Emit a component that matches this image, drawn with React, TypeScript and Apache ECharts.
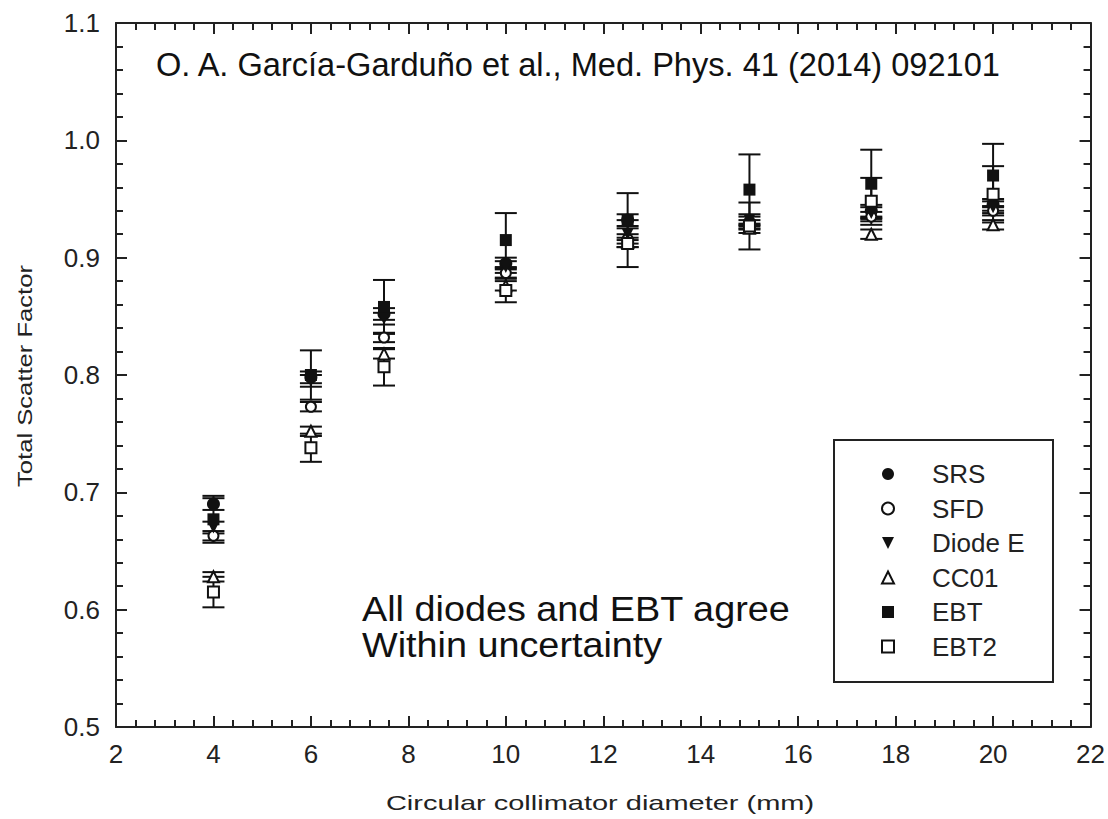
import React, { useEffect, useRef } from "react";
import * as echarts from "echarts";

// Collimator diameters (mm)
const diameters = [4, 6, 7.5, 10, 12.5, 15, 17.5, 20];

// Total scatter factor per detector
const srs = [0.69, 0.798, 0.852, 0.895, 0.932, 0.93, 0.94, 0.945];
const sfd = [0.663, 0.773, 0.832, 0.887, 0.916, 0.928, 0.935, 0.94];
const diodeE = [0.67, 0.795, 0.848, 0.892, 0.92, 0.932, 0.938, 0.943];
const cc01 = [0.628, 0.752, 0.818, 0.876, 0.913, 0.925, 0.92, 0.928];
const ebt = [0.677, 0.8, 0.858, 0.915, 0.932, 0.958, 0.963, 0.97];
const ebt2 = [0.615, 0.738, 0.807, 0.872, 0.912, 0.927, 0.948, 0.954];

// Uncertainties (half-width of the error bar)
const srsErr = [0.005, 0.005, 0.005, 0.005, 0.005, 0.005, 0.005, 0.005];
const sfdErr = [0.004, 0.004, 0.004, 0.004, 0.004, 0.004, 0.004, 0.004];
const diodeEErr = [0.005, 0.005, 0.005, 0.005, 0.005, 0.005, 0.005, 0.005];
const cc01Err = [0.004, 0.004, 0.004, 0.004, 0.004, 0.004, 0.004, 0.004];
const ebtErr = [0.02, 0.021, 0.023, 0.023, 0.023, 0.03, 0.029, 0.027];
const ebt2Err = [0.013, 0.012, 0.016, 0.01, 0.02, 0.02, 0.02, 0.024];

const xTicks = [2, 4, 6, 8, 10, 12, 14, 16, 18, 20, 22];
const yTicks = [0.5, 0.6, 0.7, 0.8, 0.9, 1.0, 1.1];

const citation = "O. A. García-Garduño et al., Med. Phys. 41 (2014) 092101";
const noteLines = ["All diodes and EBT agree", "Within uncertainty"];
const xTitle = "Circular collimator diameter (mm)";
const yTitle = "Total Scatter Factor";

const INK = "#111";
const FONT = "Liberation Sans, Arial, Helvetica, sans-serif";

type Det = {
  name: string;
  values: number[];
  err: number[];
  symbol: string;
  size: number;
  filled: boolean;
};

const detectors: Det[] = [
  { name: "SRS", values: srs, err: srsErr, symbol: "circle", size: 13, filled: true },
  { name: "SFD", values: sfd, err: sfdErr, symbol: "circle", size: 10, filled: false },
  { name: "Diode E", values: diodeE, err: diodeEErr, symbol: "path://M0,0L10,0L5,10Z", size: 12, filled: true },
  { name: "CC01", values: cc01, err: cc01Err, symbol: "triangle", size: 11, filled: false },
  { name: "EBT", values: ebt, err: ebtErr, symbol: "rect", size: 12, filled: true },
  { name: "EBT2", values: ebt2, err: ebt2Err, symbol: "rect", size: 11, filled: false },
];

function errorBarItem(params: any, api: any) {
  const x = api.value(0);
  const lo = api.value(1);
  const hi = api.value(2);
  const pHi = api.coord([x, hi]);
  const pLo = api.coord([x, lo]);
  const hw = 11;
  const style = { stroke: INK, lineWidth: 2 };
  return {
    type: "group",
    children: [
      { type: "line", shape: { x1: pHi[0], y1: pHi[1], x2: pLo[0], y2: pLo[1] }, style },
      { type: "line", shape: { x1: pHi[0] - hw, y1: pHi[1], x2: pHi[0] + hw, y2: pHi[1] }, style },
      { type: "line", shape: { x1: pLo[0] - hw, y1: pLo[1], x2: pLo[0] + hw, y2: pLo[1] }, style },
    ],
  };
}

export default function App() {
  const ref = useRef<HTMLDivElement>(null);

  useEffect(() => {
    if (!ref.current) return;
    const chart = echarts.init(ref.current, null, { renderer: "svg" });

    const errorSeries = detectors.map((d) => ({
      type: "custom",
      name: d.name + " error",
      renderItem: errorBarItem,
      encode: { x: 0, y: [1, 2] },
      data: diameters.map((x, i) => [x, d.values[i] - d.err[i], d.values[i] + d.err[i]]),
      z: 1,
      silent: true,
    }));

    const pointSeries = detectors.map((d, k) => ({
      type: "scatter",
      name: d.name,
      symbol: d.symbol,
      symbolSize: d.size,
      data: diameters.map((x, i) => [x, d.values[i]]),
      itemStyle: d.filled
        ? { color: INK, borderWidth: 0, opacity: 1 }
        : { color: "#fff", borderColor: INK, borderWidth: 2, opacity: 1 },
      z: 3 + k,
    }));

    const axisLine = { show: true, lineStyle: { color: "#222", width: 2 } };
    const tickStyle = { color: "#222", width: 2 };

    chart.setOption({
      animation: false,
      backgroundColor: "#fff",
      textStyle: { fontFamily: FONT },
      grid: { left: 116, right: 16, top: 23, bottom: 92, containLabel: false },
      title: {
        text: citation,
        left: 151,
        top: 43,
        textStyle: { fontFamily: FONT, fontSize: 32.6, fontWeight: "normal", color: INK },
      },
      legend: {
        data: detectors.map((d) => d.name),
        orient: "vertical",
        left: 881,
        top: 461,
        padding: 0,
        itemWidth: 12,
        itemHeight: 12,
        itemGap: 8.5,
        textStyle: {
          fontFamily: FONT,
          fontSize: 26,
          lineHeight: 26,
          color: "#222",
          padding: [0, 0, 0, 33],
        },
      },
      xAxis: [
        {
          type: "value",
          min: xTicks[0],
          max: xTicks[xTicks.length - 1],
          interval: 2,
          axisLine,
          axisTick: { show: true, inside: true, length: 11, lineStyle: tickStyle },
          minorTick: { show: true, splitNumber: 5, length: 7, lineStyle: tickStyle },
          axisLabel: { fontFamily: FONT, fontSize: 26, color: "#222", margin: 14 },
          splitLine: { show: false },
        },
        {
          type: "value",
          position: "top",
          min: xTicks[0],
          max: xTicks[xTicks.length - 1],
          interval: 2,
          axisLine,
          axisTick: { show: true, inside: true, length: 11, lineStyle: tickStyle },
          minorTick: { show: true, splitNumber: 5, length: 7, lineStyle: tickStyle },
          axisLabel: { show: false },
          splitLine: { show: false },
        },
      ],
      yAxis: [
        {
          type: "value",
          min: yTicks[0],
          max: yTicks[yTicks.length - 1],
          interval: 0.1,
          axisLine,
          axisTick: { show: true, inside: true, length: 11, lineStyle: tickStyle },
          minorTick: { show: true, splitNumber: 5, length: 7, lineStyle: tickStyle },
          axisLabel: {
            fontFamily: FONT,
            fontSize: 26,
            color: "#222",
            margin: 16,
            formatter: (v: number) => v.toFixed(1),
          },
          splitLine: { show: false },
        },
        {
          type: "value",
          position: "right",
          min: yTicks[0],
          max: yTicks[yTicks.length - 1],
          interval: 0.1,
          axisLine,
          axisTick: { show: true, inside: true, length: 11, lineStyle: tickStyle },
          minorTick: { show: true, splitNumber: 5, length: 7, lineStyle: tickStyle },
          axisLabel: { show: false },
          splitLine: { show: false },
        },
      ],
      graphic: [
        {
          type: "rect",
          shape: { x: 834, y: 440, width: 219, height: 242 },
          style: { fill: "transparent", stroke: "#222", lineWidth: 2 },
          z: 10,
        },
        {
          type: "text",
          x: 362,
          y: 591,
          scaleX: 1.08,
          style: {
            text: noteLines.join("\n"),
            fontFamily: FONT,
            fontSize: 35,
            lineHeight: 36,
            fill: INK,
          },
          z: 10,
        },
        {
          // x-axis title, set in a wide face
          type: "text",
          x: 600,
          y: 803,
          scaleX: 1.38,
          style: {
            text: xTitle,
            fontFamily: FONT,
            fontSize: 21,
            fill: "#222",
            align: "center",
            verticalAlign: "middle",
          },
          z: 10,
        },
        {
          // y-axis title, rotated along the left edge
          type: "text",
          x: 25,
          y: 376,
          rotation: Math.PI / 2,
          scaleX: 1.22,
          style: {
            text: yTitle,
            fontFamily: FONT,
            fontSize: 21,
            fill: "#222",
            align: "center",
            verticalAlign: "middle",
          },
          z: 10,
        },
      ],
      series: [...errorSeries, ...pointSeries],
    });

    return () => chart.dispose();
  }, []);

  return (
    <div
      ref={ref}
      style={{ position: "fixed", left: 0, top: 0, width: 1108, height: 819 }}
    />
  );
}
